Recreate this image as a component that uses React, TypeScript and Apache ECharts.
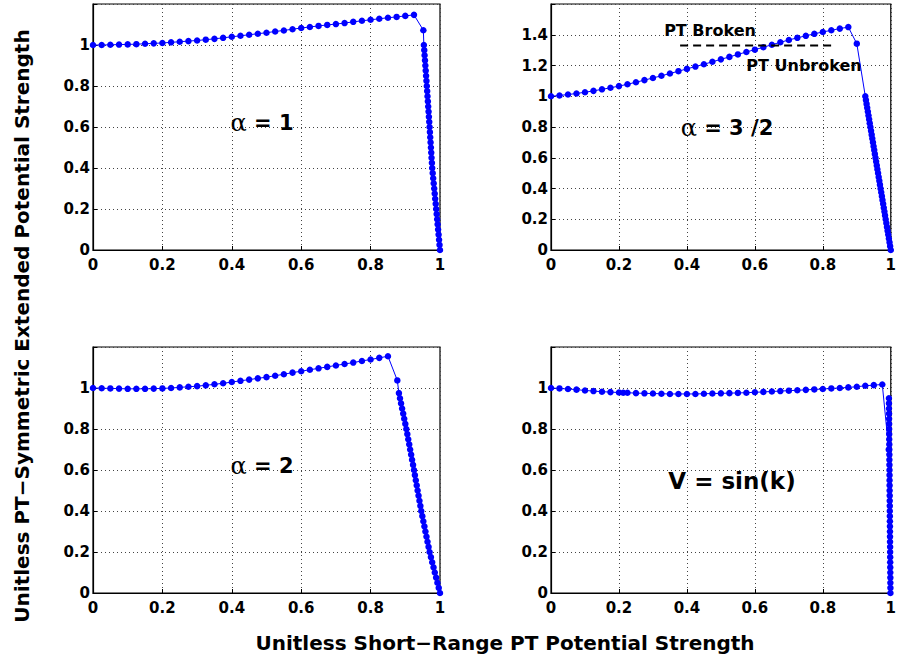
import React, { useEffect, useRef } from "react";
import * as echarts from "echarts";

// Shared k-grid used by the smooth branch of the curves
const kGrid = [0, 0.025, 0.05, 0.075, 0.1, 0.125, 0.15, 0.175, 0.2, 0.225, 0.25, 0.275, 0.3, 0.325, 0.35, 0.375, 0.4, 0.425, 0.45, 0.475, 0.5, 0.525, 0.55, 0.575, 0.6, 0.625, 0.65, 0.675, 0.7, 0.725, 0.75, 0.775, 0.8, 0.825, 0.85, 0.875, 0.9, 0.925, 0.95, 0.975];

// Dense falling branch: y values
const fallY = [1, 0.975, 0.95, 0.925, 0.9, 0.875, 0.85, 0.825, 0.8, 0.775, 0.75, 0.725, 0.7, 0.675, 0.65, 0.625, 0.6, 0.575, 0.55, 0.525, 0.5, 0.475, 0.45, 0.425, 0.4, 0.375, 0.35, 0.325, 0.3, 0.275, 0.25, 0.225, 0.2, 0.175, 0.15, 0.125, 0.1, 0.075, 0.05, 0.025, 0];

// alpha = 1
const a1RiseY = [1.0, 1.0, 1.001, 1.002, 1.003, 1.004, 1.006, 1.008, 1.01, 1.013, 1.016, 1.019, 1.022, 1.026, 1.03, 1.035, 1.04, 1.045, 1.05, 1.055, 1.06, 1.066, 1.071, 1.077, 1.083, 1.088, 1.093, 1.098, 1.102, 1.107, 1.113, 1.118, 1.123, 1.128, 1.133, 1.137, 1.142, 1.147];
const a1Knee = [0.952, 1.072];
const a1FallX = [0.9535, 0.9546, 0.9556, 0.9567, 0.9578, 0.9588, 0.9599, 0.9609, 0.962, 0.963, 0.964, 0.965, 0.966, 0.967, 0.968, 0.969, 0.97, 0.9709, 0.9719, 0.9728, 0.9738, 0.9747, 0.9756, 0.9766, 0.9775, 0.9789, 0.9804, 0.9818, 0.9833, 0.9847, 0.9861, 0.9876, 0.989, 0.9904, 0.9918, 0.9931, 0.9945, 0.9959, 0.9973, 0.9986, 1.0];

// alpha = 3/2
const a32RiseY = [1.0, 1.005, 1.011, 1.018, 1.026, 1.035, 1.045, 1.055, 1.066, 1.078, 1.091, 1.105, 1.119, 1.133, 1.148, 1.163, 1.178, 1.193, 1.208, 1.224, 1.24, 1.256, 1.272, 1.288, 1.303, 1.319, 1.335, 1.351, 1.366, 1.38, 1.393, 1.406, 1.418, 1.429, 1.44, 1.45];
const a32Knee = [0.9, 1.342];
const a32FallX = [0.925, 0.9269, 0.9288, 0.9306, 0.9325, 0.9344, 0.9363, 0.9381, 0.94, 0.9419, 0.9438, 0.9456, 0.9475, 0.9494, 0.9513, 0.9531, 0.955, 0.9569, 0.9588, 0.9606, 0.9625, 0.9644, 0.9663, 0.9681, 0.97, 0.9719, 0.9738, 0.9756, 0.9775, 0.9794, 0.9813, 0.9831, 0.985, 0.9869, 0.9888, 0.9906, 0.9925, 0.9944, 0.9963, 0.9981, 1.0];

// alpha = 2
const a2RiseY = [1.0, 0.999, 0.998, 0.997, 0.996, 0.996, 0.996, 0.997, 0.998, 1.0, 1.003, 1.006, 1.009, 1.013, 1.018, 1.023, 1.029, 1.035, 1.041, 1.047, 1.053, 1.06, 1.067, 1.075, 1.082, 1.089, 1.096, 1.103, 1.11, 1.117, 1.124, 1.132, 1.139, 1.147, 1.155];
const a2Knee = [0.877, 1.037];
const a2FallX = [0.8816, 0.8847, 0.8877, 0.8908, 0.8939, 0.8969, 0.9, 0.903, 0.9058, 0.9085, 0.9113, 0.914, 0.9168, 0.9195, 0.9223, 0.925, 0.9276, 0.9303, 0.9329, 0.9355, 0.9381, 0.9408, 0.9434, 0.946, 0.949, 0.952, 0.955, 0.958, 0.961, 0.964, 0.967, 0.97, 0.9738, 0.9775, 0.9813, 0.985, 0.9888, 0.9925, 0.9963, 1.0];

// V = sin(k)
const sinRiseX = [0, 0.025, 0.05, 0.075, 0.1, 0.125, 0.15, 0.175, 0.2, 0.2125, 0.225, 0.25, 0.275, 0.3, 0.325, 0.35, 0.375, 0.4, 0.425, 0.45, 0.475, 0.5, 0.525, 0.55, 0.575, 0.6, 0.625, 0.65, 0.675, 0.7, 0.725, 0.75, 0.775, 0.8, 0.825, 0.85, 0.875, 0.9, 0.925, 0.95, 0.975];
const sinRiseY = [1.0, 0.998, 0.995, 0.992, 0.988, 0.985, 0.982, 0.98, 0.978, 0.977, 0.977, 0.975, 0.974, 0.973, 0.972, 0.971, 0.971, 0.971, 0.971, 0.972, 0.973, 0.974, 0.975, 0.976, 0.977, 0.979, 0.981, 0.983, 0.985, 0.987, 0.989, 0.991, 0.993, 0.995, 0.998, 1.0, 1.003, 1.006, 1.011, 1.014, 1.017];
const sinKnee = [0.994, 0.7];
const sinFallX = [0.9945, 0.9946, 0.9947, 0.9949, 0.995, 0.9951, 0.9952, 0.9953, 0.9954, 0.9956, 0.9957, 0.9958, 0.9959, 0.996, 0.9962, 0.9963, 0.9964, 0.9965, 0.9966, 0.9968, 0.9969, 0.997, 0.9971, 0.9972, 0.9974, 0.9975, 0.9976, 0.9977, 0.9978, 0.998, 0.9981, 0.9982, 0.9983, 0.9984, 0.9986, 0.9987, 0.9988, 0.9989, 0.999];

// PT broken / unbroken boundary (alpha = 3/2 panel)
const boundaryX = [0.38, 0.835];
const boundaryY = [1.33, 1.33];

const xTicks = { min: 0, max: 1, interval: 0.2 };
const yMaxes = [1.2, 1.6, 1.2, 1.2];

const FONT = "DejaVu Sans";

function build(riseX: number[], riseY: number[], knee: number[], fallX: number[], fy: number[]) {
  const d: number[][] = [];
  for (let i = 0; i < riseY.length; i++) d.push([riseX[i], riseY[i]]);
  d.push([knee[0], knee[1]]);
  for (let i = 0; i < fallX.length; i++) d.push([fallX[i], fy[i]]);
  return d;
}

const gridsPos = [
  { left: 93, top: 4, width: 347, height: 246 },
  { left: 551, top: 4, width: 347, height: 246 },
  { left: 93, top: 347, width: 347, height: 246 },
  { left: 551, top: 347, width: 347, height: 246 },
];

export default function App() {
  const ref = useRef<HTMLDivElement>(null);
  useEffect(() => {
    if (!ref.current) return;
    const chart = echarts.init(ref.current, null, { renderer: "svg" });
    const datasets = [
      build(kGrid, a1RiseY, a1Knee, a1FallX, fallY),
      build(kGrid, a32RiseY, a32Knee, a32FallX, fallY),
      build(kGrid, a2RiseY, a2Knee, a2FallX, fallY.slice(1)),
      build(sinRiseX, sinRiseY, sinKnee, sinFallX, fallY.slice(2)),
    ];
    const labelStyle = { color: "#000", fontFamily: FONT, fontWeight: "bold" as const, fontSize: 15 };
    const fmt = (v: number) => String(parseFloat(v.toFixed(2)));
    const grid = gridsPos.map((g) => ({ ...g, show: true, borderColor: "#000", borderWidth: 1.2, backgroundColor: "#fff" }));
    const xAxis = gridsPos.map((_, i) => ({
      gridIndex: i,
      type: "value",
      min: xTicks.min,
      max: xTicks.max,
      interval: xTicks.interval,
      axisLine: { show: true, onZero: false, lineStyle: { color: "#000", width: 1.2 } },
      axisTick: { show: true, inside: true, length: 4, lineStyle: { color: "#000" } },
      axisLabel: { ...labelStyle, margin: 7, formatter: fmt },
      splitLine: { show: true, lineStyle: { color: "#444", type: [1, 3], width: 1 } },
    }));
    const yAxis = gridsPos.map((_, i) => ({
      gridIndex: i,
      type: "value",
      min: 0,
      max: yMaxes[i],
      interval: 0.2,
      axisLine: { show: true, onZero: false, lineStyle: { color: "#000", width: 1.2 } },
      axisTick: { show: true, inside: true, length: 4, lineStyle: { color: "#000" } },
      axisLabel: { ...labelStyle, margin: 3, formatter: (v: number) => (v > yMaxes[i] - 1e-6 ? "" : fmt(v)) },
      splitLine: { show: true, lineStyle: { color: "#444", type: [1, 3], width: 1 } },
    }));
    const series: any[] = datasets.map((d, i) => ({
      type: "line",
      xAxisIndex: i,
      yAxisIndex: i,
      data: d,
      symbol: "circle",
      symbolSize: 6.5,
      showSymbol: true,
      clip: false,
      itemStyle: { color: "#0000ff" },
      lineStyle: { color: "#0000ff", width: 1 },
      z: 3,
    }));
    series.push({
      type: "line",
      xAxisIndex: 1,
      yAxisIndex: 1,
      data: boundaryX.map((x, j) => [x, boundaryY[j]]),
      symbol: "none",
      lineStyle: { color: "#000", width: 2, type: [8, 5] },
      z: 5,
    });

    const txt = (text: string, x: number, y: number, size: number, extra: any = {}) => ({
      type: "text",
      x,
      y,
      z: 100,
      ...extra,
      style: {
        text,
        x: 0,
        y: 0,
        fill: "#000",
        fontFamily: FONT,
        fontWeight: "bold",
        fontSize: size,
        textAlign: "center",
        textVerticalAlign: "middle",
        rich: {
          a: { fontFamily: "DejaVu Serif", fontWeight: "normal", fontSize: 24, fill: "#000" },
        },
      },
    });

    chart.setOption({
      animation: false,
      backgroundColor: "#fff",
      grid,
      xAxis,
      yAxis,
      series,
      graphic: [
        txt("Unitless PT\u2212Symmetric Extended Potential Strength", 22, 326, 20, { rotation: Math.PI / 2 }),
        txt("Unitless Short\u2212Range PT Potential Strength", 505, 643, 20),
        txt("{a|\u03b1} = 1", 262, 123, 21),
        txt("{a|\u03b1} = 3 /2", 727, 128, 21),
        txt("{a|\u03b1} = 2", 262, 466, 21),
        txt("V = sin(k)", 732, 481, 23),
        txt("PT Broken", 710, 30, 16),
        txt("PT Unbroken", 804, 65, 16),
      ],
    });
    return () => chart.dispose();
  }, []);
  return <div ref={ref} style={{ position: "absolute", left: 0, top: 0, width: 899, height: 662 }} />;
}
